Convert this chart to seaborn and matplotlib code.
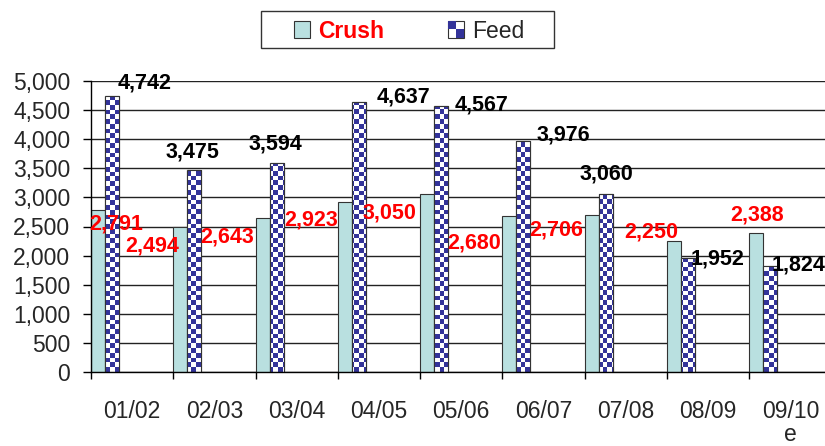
import numpy as np
import pandas as pd
import matplotlib
matplotlib.use('Agg')
import matplotlib.pyplot as plt
import matplotlib.patches as mpatches
from matplotlib.colors import ListedColormap
from matplotlib.legend_handler import HandlerBase
import seaborn as sns

# ---- data ----
seasons = ['01/02', '02/03', '03/04', '04/05', '05/06', '06/07', '07/08', '08/09', '09/10']
season_labels = ['01/02', '02/03', '03/04', '04/05', '05/06', '06/07', '07/08', '08/09', '09/10\ne']
crush = [2791, 2494, 2643, 2923, 3050, 2680, 2706, 2250, 2388]
feed = [4742, 3475, 3594, 4637, 4567, 3976, 3060, 1952, 1824]

# label offsets from the bar top, in pixels (dx, dy up) - as in the original layout
crush_off = [(18, -14), (-28, -19), (-35, -19), (-34, -18), (-38, -19),
             (-35, -27), (-36, -15), (-23, 9), (1, 18)]
feed_off = [(33, 13), (-2, 18), (-1, 19), (45, 5), (40, 1),
            (40, 6), (1, 20), (30, -1), (28, 1)]

TEAL = '#B9E0E0'
NAVY = '#333399'
EDGE = '#333333'

df = pd.DataFrame({
    'season': seasons * 2,
    'series': ['Crush'] * len(seasons) + ['Feed'] * len(seasons),
    'value': crush + feed,
})

sns.set_style('white')
plt.rcParams['font.family'] = ['Liberation Sans', 'DejaVu Sans']

W, H = 825, 446
fig = plt.figure(figsize=(W / 100, H / 100), dpi=100)
ax_l, ax_r, ax_t, ax_b = 91, 831.6, 81, 372
ax = fig.add_axes([ax_l / W, 1 - ax_b / H, (ax_r - ax_l) / W, (ax_b - ax_t) / H])

bw = 0.34
sns.barplot(data=df, x='season', y='value', hue='series', order=seasons,
            hue_order=['Crush', 'Feed'], palette=[TEAL, 'white'], width=bw,
            saturation=1, errorbar=None, edgecolor=EDGE, linewidth=0.8,
            legend=False, ax=ax)

crush_bars = ax.containers[0]
feed_bars = ax.containers[1]

# checkerboard fill for the Feed bars
cell = 4.8
ncol = int(np.ceil((ax_r - ax_l) / cell))
nrow = int(np.ceil((ax_b - ax_t) / cell))
yy, xx = np.indices((nrow, ncol))
checker = (xx + yy) % 2
cmap = ListedColormap(['white', NAVY])
for bar in feed_bars:
    im = ax.imshow(checker, cmap=cmap, extent=(0, 1, 0, 1), transform=ax.transAxes,
                   aspect='auto', interpolation='nearest', origin='upper', zorder=2.1)
    im.set_clip_path(bar)
    ax.add_patch(mpatches.Rectangle(bar.get_xy(), bar.get_width(), bar.get_height(),
                                    fill=False, edgecolor=EDGE, linewidth=0.8, zorder=2.2))

ax.set_xlim(-bw / 2, len(seasons) - bw / 2)
ax.set_ylim(0, 5000)
ax.set_yticks(np.arange(0, 5001, 500))
ax.set_yticklabels([f'{v:,}' for v in range(0, 5001, 500)])
ax.set_xticks([i - bw / 2 + 0.5 for i in range(len(seasons))])
ax.set_xticklabels(season_labels)
for t in ax.get_xticklabels():
    t.set_linespacing(1.0)
ax.set_xticks([i - bw / 2 for i in range(len(seasons))], minor=True)
ax.set_xlabel('')
ax.set_ylabel('')

ax.grid(axis='y', color='#222222', linewidth=1)
ax.set_axisbelow(True)
for s in ['top', 'right']:
    ax.spines[s].set_visible(False)
for s in ['left', 'bottom']:
    ax.spines[s].set_color('black')
    ax.spines[s].set_linewidth(1)

ax.tick_params(axis='y', direction='out', length=6, width=1, color='black',
               labelsize=16.5, pad=9, left=True)
ax.tick_params(axis='x', which='major', length=0, labelsize=16.5, pad=20)
ax.tick_params(axis='x', which='minor', direction='out', length=5, width=1,
               color='black', bottom=True)

# data labels
lab_font = dict(fontsize=15.5, fontweight='bold', ha='center', va='center',
                textcoords='offset pixels')
for bar, v, (dx, dy) in zip(crush_bars, crush, crush_off):
    ax.annotate(f'{v:,}', (bar.get_x() + bar.get_width() / 2, bar.get_height()),
                xytext=(dx, dy), color='red', zorder=5, **lab_font)
for bar, v, (dx, dy) in zip(feed_bars, feed, feed_off):
    ax.annotate(f'{v:,}', (bar.get_x() + bar.get_width() / 2, bar.get_height()),
                xytext=(dx, dy), color='black', zorder=5, **lab_font)


class CheckerHandler(HandlerBase):
    def create_artists(self, legend, orig, xdescent, ydescent, width, height, fontsize, trans):
        x0, y0 = -xdescent, -ydescent
        base = mpatches.Rectangle((x0, y0), width, height, facecolor='white',
                                  edgecolor=EDGE, linewidth=0.8, transform=trans)
        q1 = mpatches.Rectangle((x0, y0 + height / 2), width / 2, height / 2,
                                facecolor=NAVY, linewidth=0, transform=trans)
        q2 = mpatches.Rectangle((x0 + width / 2, y0), width / 2, height / 2,
                                facecolor=NAVY, linewidth=0, transform=trans)
        return [base, q1, q2]


h_crush = mpatches.Patch(facecolor=TEAL, edgecolor=EDGE, linewidth=0.8)
h_feed = mpatches.Patch(facecolor='white')
leg = fig.legend([h_crush, h_feed], ['Crush', 'Feed'], loc='center',
                 bbox_to_anchor=(409 / W, 1 - 31 / H), ncol=2, fontsize=16.5,
                 handlelength=0.7, handleheight=0.7, handletextpad=0.35,
                 columnspacing=2.8, borderpad=0.35, frameon=False,
                 handler_map={h_feed: CheckerHandler()})
leg.get_texts()[0].set_color('red')
leg.get_texts()[0].set_fontweight('bold')

# legend box, wider than the entries like the original
fig.patches.append(mpatches.Rectangle((261 / W, 1 - 48 / H), 293 / W, 37 / H,
                                      transform=fig.transFigure, fill=False,
                                      edgecolor=EDGE, linewidth=1))

fig.savefig('out.png', dpi=100)
